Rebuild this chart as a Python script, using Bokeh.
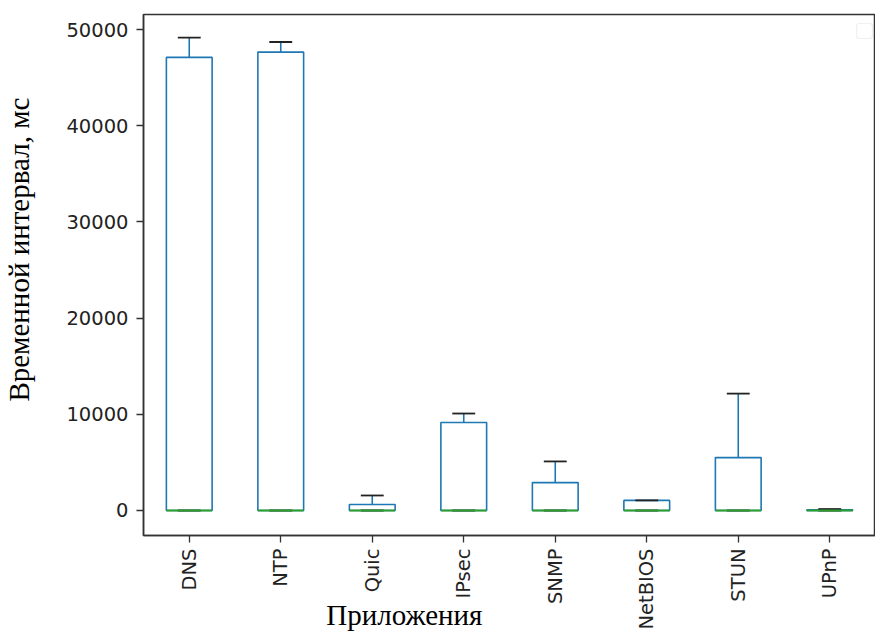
import numpy as np
from bokeh.plotting import figure
from bokeh.models import ColumnDataSource, FixedTicker, PrintfTickFormatter, BoxAnnotation, Range1d
from bokeh.embed import file_html
from bokeh.resources import INLINE

# ---- data ----
categories = ["DNS", "NTP", "Quic", "IPsec", "SNMP", "NetBIOS", "STUN", "UPnP"]
whisker_low = [0, 0, 0, 0, 0, 0, 0, 0]
q1 = [0, 0, 0, 0, 0, 0, 0, 0]
median = [0, 0, 0, 0, 0, 0, 0, 0]
q3 = [47100, 47650, 620, 9150, 2900, 1050, 5500, 80]
whisker_high = [49150, 48700, 1560, 10080, 5100, 1050, 12150, 150]
y_ticks = [0, 10000, 20000, 30000, 40000, 50000]
x_title = "Приложения"
y_title = "Временной интервал, мс"

pos = np.arange(1, len(categories) + 1, dtype=float)
box_w = 0.5
cap_w = box_w / 2

src = ColumnDataSource(dict(
    x=pos, q1=q1, q3=q3, med=median, lo=whisker_low, hi=whisker_high,
    bx0=pos - box_w / 2, bx1=pos + box_w / 2,
    cx0=pos - cap_w / 2, cx1=pos + cap_w / 2,
))

p = figure(frame_width=732, frame_height=521, output_backend="svg", toolbar_location=None,
           x_range=Range1d(0.5, len(categories) + 0.5), y_range=Range1d(-2600, 51560),
           min_border_left=143, min_border_top=14, min_border_bottom=107, min_border_right=0)
p.background_fill_color = "white"
p.border_fill_color = "white"
p.grid.visible = False
p.outline_line_color = "#333333"
p.outline_line_width = 1.5
p.outline_line_alpha = 1

blue = "#1f77b4"
# boxes
p.vbar(x="x", width=box_w, top="q3", bottom="q1", source=src, fill_color=None,
       line_color=blue, line_width=1.6)
# whiskers
p.segment(x0="x", y0="q3", x1="x", y1="hi", source=src, line_color=blue, line_width=1.6)
p.segment(x0="x", y0="q1", x1="x", y1="lo", source=src, line_color=blue, line_width=1.6)
# caps
p.segment(x0="cx0", y0="hi", x1="cx1", y1="hi", source=src, line_color="#222222", line_width=1.8)
p.segment(x0="cx0", y0="lo", x1="cx1", y1="lo", source=src, line_color="#222222", line_width=1.8)
# medians
p.segment(x0="bx0", y0="med", x1="bx1", y1="med", source=src, line_color="#2ca02c", line_width=1.8)

# axes
for ax in (p.xaxis[0], p.yaxis[0]):
    ax.axis_line_color = "#333333"
    ax.axis_line_width = 1.5
    ax.major_tick_line_color = "#333333"
    ax.major_tick_line_width = 1.3
    ax.major_tick_out = 7
    ax.major_tick_in = 0
    ax.minor_tick_line_color = None
    ax.major_label_text_font = "DejaVu Sans"
    ax.major_label_text_font_size = "19.5px"
    ax.major_label_text_color = "#222222"
    ax.axis_label_text_font = "Liberation Serif"
    ax.axis_label_text_font_size = "29px"
    ax.axis_label_text_font_style = "normal"
    ax.axis_label_text_color = "black"

p.xaxis.major_label_standoff = 6
p.yaxis.major_label_standoff = 8
p.xaxis.ticker = FixedTicker(ticks=list(pos))
p.xaxis.major_label_overrides = {float(i): c for i, c in zip(pos, categories)}
p.xaxis.major_label_overrides.update({int(i): c for i, c in zip(pos, categories)})
p.xaxis.major_label_orientation = np.pi / 2
p.yaxis.ticker = FixedTicker(ticks=y_ticks)
p.yaxis.formatter = PrintfTickFormatter(format="%d")

# axis titles (non-breaking spaces shift them off-centre as in the reference)
p.yaxis.axis_label = "\u00a0" * 7 + y_title
p.yaxis.axis_label_standoff = 28
p.xaxis.axis_label = x_title + "\u00a0" * 29
p.xaxis.axis_label_standoff = -34

# empty legend box
p.add_layout(BoxAnnotation(left=713, right=729, top=512, bottom=497,
                           left_units="screen", right_units="screen",
                           top_units="screen", bottom_units="screen",
                           fill_color="white", fill_alpha=1, line_color="#cccccc",
                           line_width=1.2, border_radius=3))

open("out.html", "w").write(file_html(p, INLINE))
